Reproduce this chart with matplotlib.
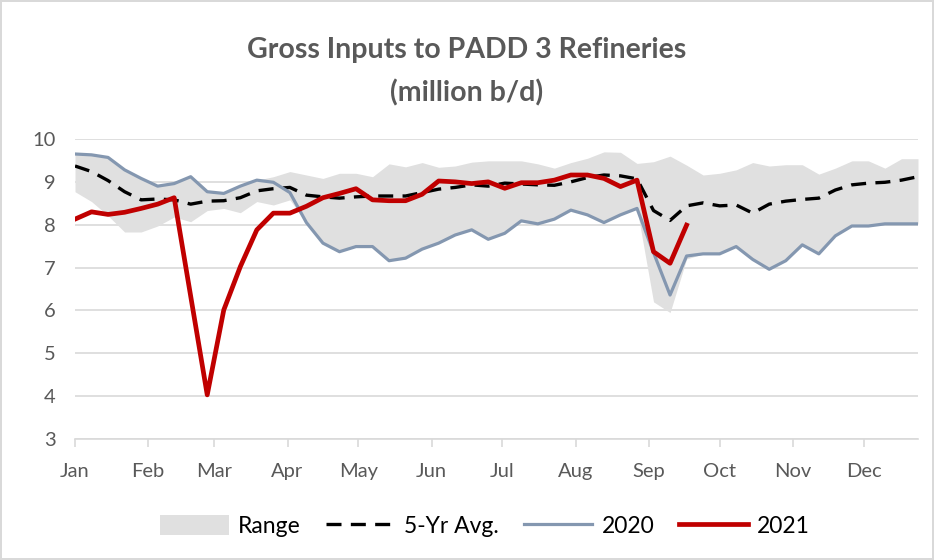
import numpy as np
import matplotlib
matplotlib.use("Agg")
import matplotlib.pyplot as plt
from matplotlib.patches import Patch
from matplotlib.lines import Line2D

# weekly data, week index 0..51 (one point per week from Jan 1)
weeks = np.arange(52)
month_days = [0, 31, 59, 90, 120, 151, 181, 212, 243, 273, 304, 334]
month_labels = ["Jan", "Feb", "Mar", "Apr", "May", "Jun",
                "Jul", "Aug", "Sep", "Oct", "Nov", "Dec"]

range_high = [9.65, 9.63, 9.57, 9.28, 9.08, 8.90, 8.96, 9.12, 8.77, 8.73,
              8.90, 9.04, 9.12, 9.24, 9.16, 9.08, 9.20, 9.20, 9.12, 9.42,
              9.35, 9.45, 9.34, 9.37, 9.46, 9.49, 9.49, 9.49, 9.42, 9.32,
              9.45, 9.55, 9.70, 9.69, 9.43, 9.47, 9.60, 9.39, 9.16, 9.20,
              9.28, 9.45, 9.37, 9.40, 9.40, 9.18, 9.32, 9.49, 9.49, 9.32,
              9.54, 9.54]
range_low = [8.77, 8.54, 8.21, 7.83, 7.83, 7.97, 8.18, 8.07, 8.33, 8.38,
             8.28, 8.54, 8.46, 8.58, 8.05, 7.57, 7.37, 7.49, 7.49, 7.16,
             7.22, 7.43, 7.57, 7.76, 7.88, 7.66, 7.80, 8.09, 8.02, 8.13,
             8.34, 8.23, 8.05, 8.23, 8.38, 6.20, 5.95, 7.20, 7.32, 7.32,
             7.49, 7.19, 6.96, 7.16, 7.53, 7.32, 7.74, 7.97, 7.97, 8.02,
             8.02, 8.02]
avg_5yr = [9.37, 9.24, 9.03, 8.77, 8.58, 8.60, 8.58, 8.48, 8.55, 8.56,
           8.63, 8.79, 8.84, 8.87, 8.69, 8.65, 8.62, 8.65, 8.67, 8.67,
           8.67, 8.75, 8.83, 8.87, 8.93, 8.90, 8.97, 8.95, 8.93, 8.92,
           9.00, 9.10, 9.16, 9.14, 9.07, 8.33, 8.10, 8.44, 8.51, 8.44,
           8.46, 8.27, 8.48, 8.55, 8.59, 8.62, 8.81, 8.93, 8.97, 8.99,
           9.04, 9.12]
y2020 = [9.65, 9.63, 9.57, 9.28, 9.08, 8.90, 8.96, 9.12, 8.77, 8.73,
         8.90, 9.04, 8.99, 8.75, 8.05, 7.57, 7.37, 7.49, 7.49, 7.16,
         7.22, 7.43, 7.57, 7.76, 7.88, 7.66, 7.80, 8.09, 8.02, 8.13,
         8.34, 8.23, 8.05, 8.23, 8.38, 7.35, 6.36, 7.27, 7.32, 7.32,
         7.49, 7.19, 6.96, 7.16, 7.53, 7.32, 7.74, 7.97, 7.97, 8.02,
         8.02, 8.02]
y2021 = [8.13, 8.30, 8.24, 8.29, 8.38, 8.48, 8.63, 6.33, 4.03, 6.01,
         7.02, 7.88, 8.27, 8.27, 8.43, 8.63, 8.73, 8.84, 8.58, 8.56,
         8.56, 8.71, 9.02, 9.00, 8.96, 9.00, 8.85, 8.98, 8.98, 9.04,
         9.16, 9.16, 9.08, 8.89, 9.04, 7.37, 7.10, 7.99]

plt.rcParams["font.family"] = ["Lato", "DejaVu Sans"]

days = weeks * 7
days21 = days[:len(y2021)]
dash = (4.5, 2.8)

fig = plt.figure(figsize=(9.34, 5.6), dpi=100)
fig.patch.set_edgecolor("#d9d9d9")
fig.patch.set_linewidth(1.5)
ax = fig.add_axes([75 / 934, 1 - 439 / 560, (918 - 75) / 934, 300 / 560])

ax.fill_between(days, range_low, range_high, color="#e0e0e0", lw=0, zorder=1)
ax.plot(days, avg_5yr, color="black", lw=2.4, dashes=dash, zorder=3)
ax.plot(days, y2020, color="#8497b0", lw=2.3, zorder=4)
ax.plot(days21, y2021, color="#c00000", lw=3.4, zorder=5)

ax.set_xlim(0, days[-1])
ax.set_ylim(3, 10)
ax.set_yticks(range(3, 11))
ax.set_xticks(month_days)
ax.set_xticklabels(month_labels)
ax.grid(axis="y", color="#d9d9d9", lw=1.2, zorder=0)
ax.set_axisbelow(True)
for s in ["top", "right", "left"]:
    ax.spines[s].set_visible(False)
ax.spines["bottom"].set_color("#d9d9d9")
ax.spines["bottom"].set_linewidth(1.2)
ax.tick_params(axis="y", length=0, pad=14, labelsize=14.5, labelcolor="#595959")
ax.tick_params(axis="x", length=6, width=1.2, color="#d9d9d9", pad=11,
               labelsize=14.5, labelcolor="#595959")

fig.text(0.5, 1 - 50 / 560, "Gross Inputs to PADD 3 Refineries", ha="center",
         va="center", fontsize=20.5, fontweight="bold", color="#595959")
fig.text(0.5, 1 - 93 / 560, "(million b/d)", ha="center",
         va="center", fontsize=20.5, fontweight="bold", color="#595959")

handles = [Patch(facecolor="#e0e0e0", edgecolor="none"),
           Line2D([], [], color="black", lw=2.4, dashes=dash),
           Line2D([], [], color="#8497b0", lw=2.3),
           Line2D([], [], color="#c00000", lw=3.4)]
fig.legend(handles, ["Range", "5-Yr Avg.", "2020", "2021"], loc="center",
           bbox_to_anchor=(485 / 934, 1 - 526 / 560), ncol=4, frameon=False,
           fontsize=16.5, handlelength=3.0, handleheight=1.0, columnspacing=1.1,
           handletextpad=0.4)

fig.savefig("out.png", dpi=100)
